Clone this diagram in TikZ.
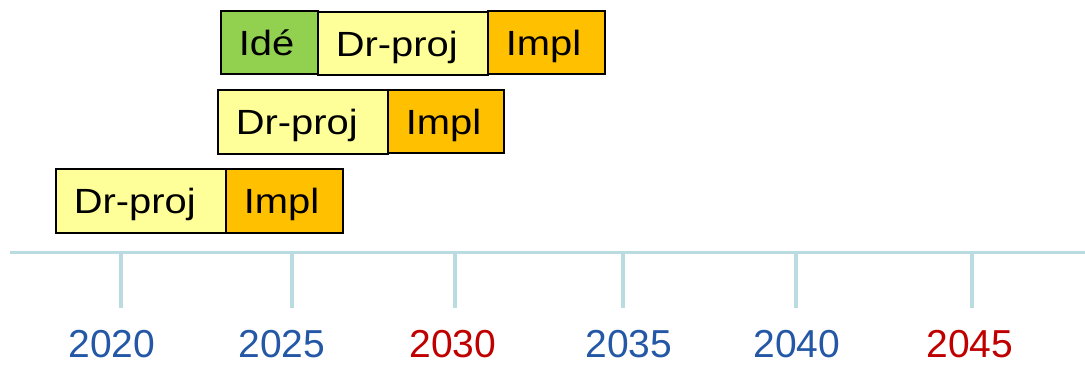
\documentclass[tikz,border=0pt]{standalone}
\usepackage{fontspec}
\setmainfont{Liberation Sans}
\newfontfamily\widefont[FakeStretch=1.14]{Liberation Sans}
\definecolor{ideagreen}{RGB}{146,208,80}
\definecolor{projyellow}{RGB}{255,255,153}
\definecolor{implorange}{RGB}{255,192,0}
\definecolor{axisblue}{RGB}{186,219,224}
\definecolor{yearblue}{RGB}{36,88,166}
\definecolor{yearred}{RGB}{192,0,0}
\tikzset{
  phase/.style={draw=black, line width=1.6pt, inner sep=0pt, anchor=north west,
    align=left, text height=45pt, text depth=18pt,
    font=\widefont\fontsize{35}{40}\selectfont},
  axisline/.style={draw=axisblue, line width=3pt},
  tickline/.style={draw=axisblue, line width=3.5pt},
  year/.style={font=\fontsize{39}{46}\selectfont, anchor=base},
}
\newcommand{\lbl}[1]{\hspace*{18pt}#1}
\begin{document}
\begin{tikzpicture}[x=1pt, y=-1pt]
\useasboundingbox (0,0) rectangle (1085,368);

% timeline axis and ticks
\coordinate (axL) at (10,252);
\coordinate (axR) at (1085,252);
\draw[axisline] (axL) -- (axR);
\foreach \yr/\tx in {2020/121, 2025/292, 2030/455, 2035/623, 2040/796, 2045/972}{
  \coordinate (top\yr) at (\tx,252);
  \coordinate (bot\yr) at (\tx,308);
  \draw[tickline] (top\yr) -- (bot\yr);
}

% year labels
\node[year, text=yearblue] (y2020) at (112,357) {2020};
\node[year, text=yearblue] (y2025) at (282,357) {2025};
\node[year, text=yearred]  (y2030) at (453,357) {2030};
\node[year, text=yearblue] (y2035) at (629,357) {2035};
\node[year, text=yearblue] (y2040) at (797,357) {2040};
\node[year, text=yearred]  (y2045) at (970,357) {2045};

% top row
\node[phase, fill=ideagreen, text width=97pt] (ide1) at (220,10) {\lbl{Idé}};
\node[phase, fill=implorange, text width=117pt] (impl1) at (487,10) {\lbl{Impl}};
\node[phase, fill=projyellow, text width=170pt] (proj1) at (317,11) {\lbl{Dr-proj}};

% middle row
\node[phase, fill=projyellow, text width=170pt, text depth=19pt] (proj2) at (217,89) {\lbl{Dr-proj}};
\node[phase, fill=implorange, text width=116pt] (impl2) at (387,89) {\lbl{Impl}};

% bottom row
\node[phase, fill=projyellow, text width=170pt, text depth=19pt] (proj3) at (55,168) {\lbl{Dr-proj}};
\node[phase, fill=implorange, text width=117pt, text depth=19pt] (impl3) at (225,168) {\lbl{Impl}};
\end{tikzpicture}
\end{document}
